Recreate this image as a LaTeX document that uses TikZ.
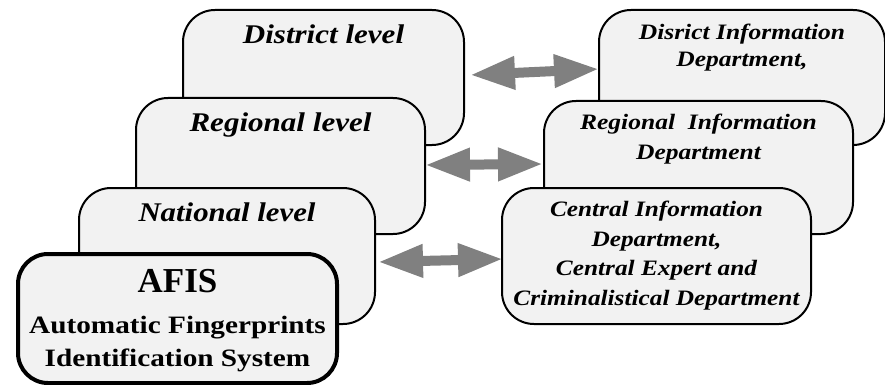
\documentclass[tikz,border=0pt]{standalone}
\usepackage{fontspec}
\usepackage{graphicx}
\setmainfont{Liberation Serif}
\usetikzlibrary{arrows.meta,calc}
\definecolor{boxfill}{HTML}{F2F2F2}
\definecolor{linkgray}{HTML}{808080}
% widen a line of text horizontally
\newcommand{\wideline}[2][1.15]{\scalebox{#1}[1]{#2}}
\tikzset{
  levelbox/.style={draw=black, line width=2pt, fill=boxfill, rounded corners=32pt,
    inner sep=0pt, anchor=north west},
  afisbox/.style={levelbox, line width=4pt, rounded corners=30pt},
  leveltext/.style={anchor=north, inner sep=0pt, align=center,
    font=\fontsize{27}{32}\selectfont\bfseries\itshape},
  depttext/.style={anchor=north, inner sep=0pt, align=center,
    font=\fontsize{22}{29.5}\selectfont\bfseries\itshape},
  link/.style={draw=linkgray, line width=10pt,
    {Triangle[length=45pt,width=31pt]}-{Triangle[length=45pt,width=31pt]}}
}
\begin{document}
\begin{tikzpicture}[x=1pt,y=-1pt]
\useasboundingbox (0,0) rectangle (885,385);

% left stack of levels
\node[levelbox, minimum width=281pt, minimum height=135pt] (dist) at (182,9) {};
\node[levelbox, minimum width=289pt, minimum height=136pt] (reg) at (135,97) {};
\node[levelbox, minimum width=296pt, minimum height=136pt] (nat) at (78,187) {};
\node[afisbox, minimum width=319pt, minimum height=129pt] (afis) at (16,252) {};

\node[leveltext] (distT) at ($(dist.north)+(0,16)$) {\wideline{District level}};
\node[leveltext] (regT) at ($(reg.north)+(0,16)$) {\wideline{Regional level}};
\node[leveltext] (natT) at ($(nat.north)+(0,16)$) {\wideline[1.14]{National level}};

\node[anchor=north, inner sep=0pt, font=\fontsize{35}{40}\selectfont\bfseries]
  (afisT) at ($(afis.north)+(0,17)$) {AFIS};
\node[anchor=north, inner sep=0pt, align=center,
  font=\fontsize{25}{33}\selectfont\bfseries]
  (afisS) at ($(afis.north)+(0,64)$)
  {\wideline[1.17]{Automatic Fingerprints}\\\wideline[1.17]{Identification System}};

% right stack of departments
\node[levelbox, minimum width=286pt, minimum height=135pt] (distI) at (598,9) {};
\node[levelbox, minimum width=309pt, minimum height=133pt] (regI) at (543,100) {};
\node[levelbox, minimum width=309pt, minimum height=136pt] (cen) at (501,187) {};

\node[depttext, font=\fontsize{22}{26.5}\selectfont\bfseries\itshape] (distIT)
  at ($(distI.north)+(0,15)$)
  {\wideline[1.16]{Disrict Information}\\\wideline[1.16]{Department,}};
\node[depttext] (regIT) at ($(regI.north)+(0,14)$)
  {\wideline[1.16]{Regional\ \ Information}\\\wideline[1.16]{Department}};
\node[depttext] (cenT) at ($(cen.north)+(0,14)$)
  {\wideline[1.15]{Central Information}\\\wideline[1.15]{Department,}\\
   \wideline[1.15]{Central Expert and}\\\wideline[1.15]{Criminalistical Department}};

% two-way links between levels and departments
\draw[link] ($(dist.east)+(5,-2.5)$) -- ($(distI.west)+(1,-8.5)$);
\draw[link] ($(reg.east)+(-1,-1)$) -- ($(regI.west)+(0,-3.5)$);
\draw[link] ($(nat.east)+(2,6)$) -- ($(cen.west)+(2,3)$);
\end{tikzpicture}
\end{document}
